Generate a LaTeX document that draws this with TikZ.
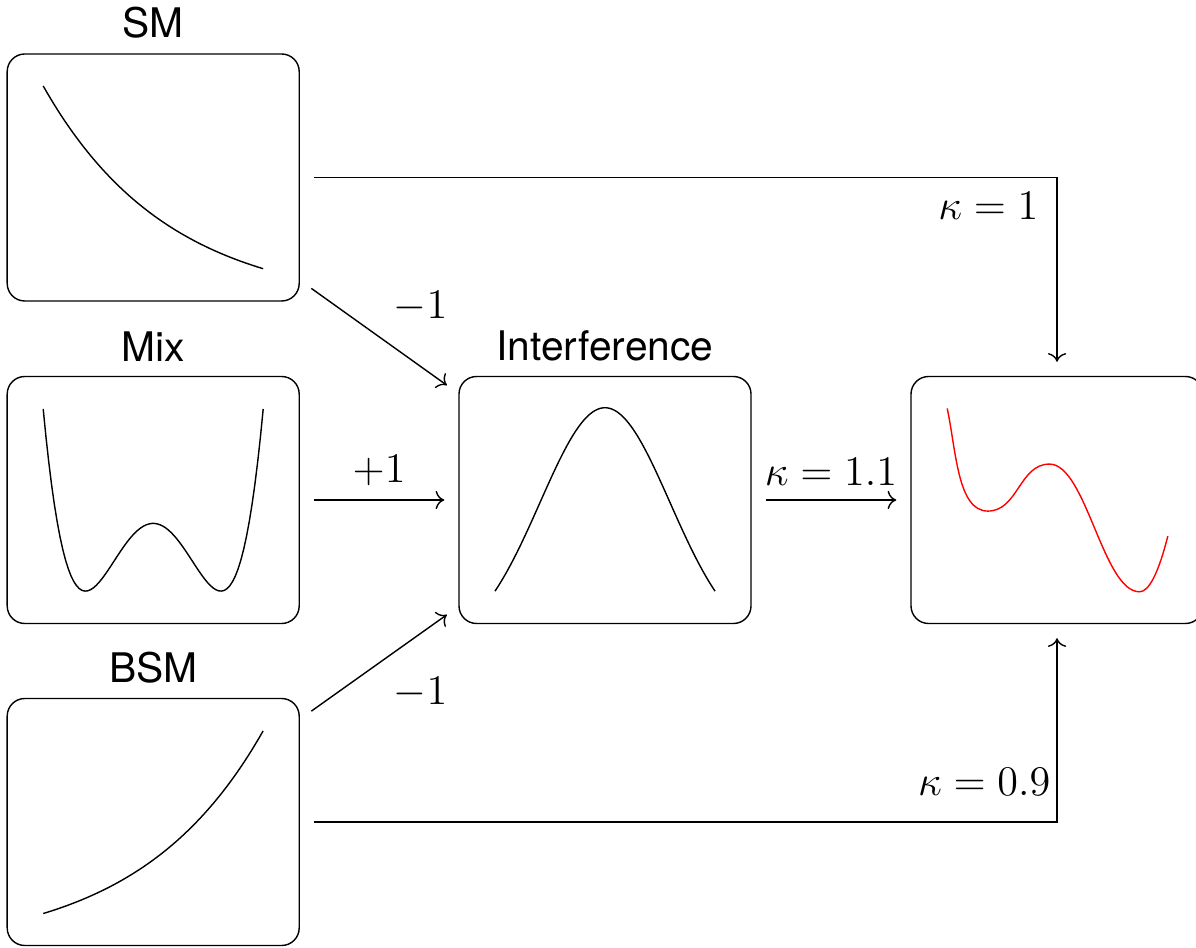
\documentclass[tikz,border=0pt,12pt]{standalone}
\usepackage{amsmath}
\usepackage{fontspec}
\setsansfont{TeX Gyre Heros}
\usepackage{tikz}
\usetikzlibrary{arrows.meta, positioning, calc}

\begin{document}
\begin{tikzpicture}[
    panel/.style={draw, rounded corners=5pt, minimum width=2.92cm, minimum height=2.47cm},
    ttl/.style={font=\sffamily\fontsize{11.6}{14}\selectfont},
    conn/.style={->, shorten <=0.14cm, shorten >=0.14cm}
  ]
  \useasboundingbox (0,0) rectangle (11.96,9.47);

  % Panels
  \node[panel, label={[ttl]above:SM}] (sm) at (1.532, 7.695) {};
  \node[panel, label={[ttl]above:Mix}] (mix) at (1.532, 4.47) {};
  \node[panel, label={[ttl]above:BSM}] (bsm) at (1.532, 1.25) {};
  \node[panel, label={[ttl]above:Interference}] (int) at (6.05, 4.47) {};
  \node[panel] (res) at (10.57, 4.47) {};

  % Shapes inside the panels
  \draw[shift={(sm.center)}] plot[domain=-1.1:1.1, samples=60] (\x, {0.915-2.207*(1-exp(-0.8*(\x+1.1)))});
  \draw[shift={(bsm.center)}] plot[domain=-1.1:1.1, samples=60] (\x, {0.912-2.207*(1-exp(-0.8*(1.1-\x)))});
  \draw[shift={(mix.center)}] plot[domain=-1.1:1.1, samples=80] (\x, {-0.911+0.677*((\x/0.677)^2-1)^2});
  \draw[shift={(int.center)}] plot[domain=-1.1:1.1, samples=80] (\x, {-0.911+2.409*(exp(-(\x)*(\x)/0.845)-0.239)});
  \draw[red, shift={(res.center)}] (-1.098,0.916) to[out=-78, in=180, in looseness=0.7] (-0.692,-0.111)
    to[out=0, in=180] (-0.075,0.359) to[out=0, in=180, looseness=0.6] (0.825,-0.918)
    .. controls (0.919,-0.918) and (1.014,-0.732) .. (1.108,-0.361);

  % Connections
  \draw[conn] (sm.east) -| (res.north) node[pos=0.5, below left, xshift=-0.04cm] {$\kappa=1$};
  \draw[conn] (sm.-35.5) -- (int.144.5) node[midway, above right] {$-1$};
  \draw[conn] (mix.east) -- (int.west) node[midway, above] {$+1$};
  \draw[conn] (bsm.35.5) -- (int.-144.5) node[midway, below right] {$-1$};
  \draw[conn] (int.east) -- (res.west) node[midway, above] {$\kappa=1.1$};
  \draw[conn] (bsm.east) -| (res.south) node[pos=0.5, above left, xshift=0.08cm, yshift=0.12cm] {$\kappa=0.9$};
\end{tikzpicture}
\end{document}
